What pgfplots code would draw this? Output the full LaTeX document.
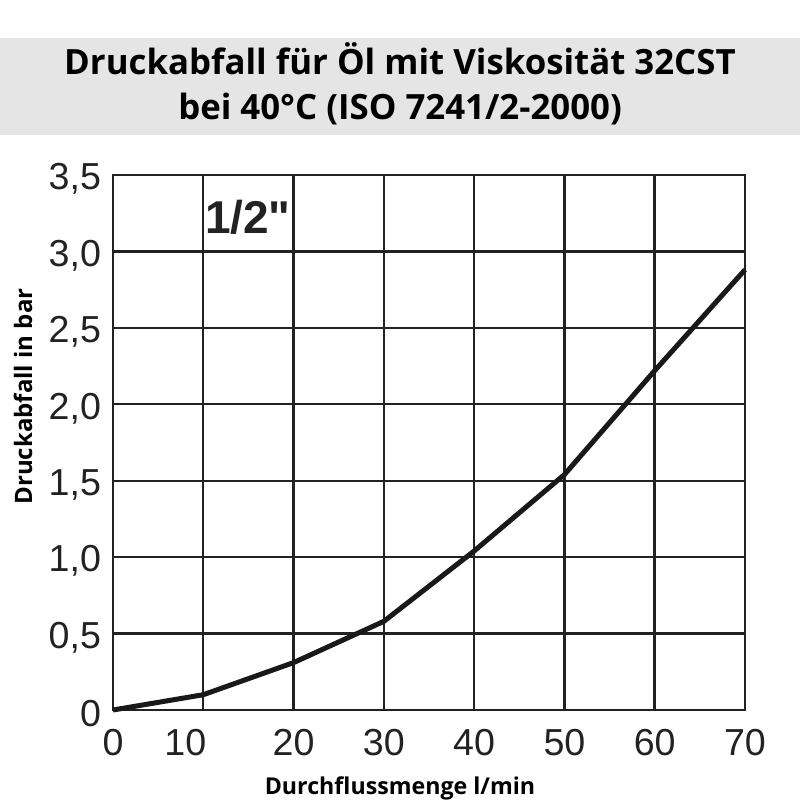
\documentclass[border=0pt]{standalone}
\usepackage{pgfplots}
\pgfplotsset{compat=1.18}
\usepackage{fontspec}
\setmainfont{Liberation Sans}
\newfontfamily\opensans{Open Sans}
\newfontfamily\plainsans[Ligatures=TeXOff]{Liberation Sans}
\definecolor{band}{RGB}{229,229,229}
\definecolor{ink}{RGB}{34,34,34}
\begin{document}
\begin{tikzpicture}[x=1pt,y=1pt]
\useasboundingbox (0,0) rectangle (400,400);
\fill[band] (0,332.5) rectangle (400,381);
\node[anchor=base, font=\opensans\bfseries\fontsize{17.4}{20}\selectfont, inner sep=0pt]
  at (200,362.5) {Druckabfall für Öl mit Viskosität 32CST};
\node[anchor=base, font=\opensans\bfseries\fontsize{17.4}{20}\selectfont, inner sep=0pt]
  at (200,340) {bei 40°C (ISO 7241/2-2000)};
\begin{axis}[
  at={(56.5pt,45pt)}, anchor=south west,
  scale only axis,
  width=316pt, height=267.5pt,
  xmin=0, xmax=70, ymin=0, ymax=3.5,
  xtick={0,10,...,70},
  xticklabels={0,{10\hspace*{18pt}},20,30,40,50,60,70},
  ytick={0,0.5,...,3.5},
  yticklabels={0,{0,5},{1,0},{1,5},{2,0},{2,5},{3,0},{3,5}},
  grid=major,
  major grid style={ink, line width=1.2pt},
  axis line style={ink, line width=1.2pt},
  major tick length=0pt,
  tick style={draw=none},
  ticklabel style={font=\fontsize{18.8}{20}\selectfont, text=ink},
  yticklabel style={xshift=-2.5pt, yshift=-2pt},
  xticklabel style={yshift=-6pt},
  clip=false,
]
\addplot[color=black!90, line width=2.5pt, line join=round] coordinates {
  (0,0) (10,0.10) (20,0.31) (30,0.58) (40,1.04) (50,1.54) (60,2.22) (70,2.88)
};
\node[anchor=base west, inner sep=0pt, font=\plainsans\bfseries\fontsize{23}{24}\selectfont, text=ink]
  at (axis cs:10.15,3.12) {1/2"};
\end{axis}
\node[rotate=90, font=\opensans\bfseries\fontsize{12}{13}\selectfont] at (11.5,201.75) {Druckabfall in bar};
\node[anchor=base, font=\opensans\bfseries\fontsize{11.6}{13}\selectfont] at (200,2.7) {Durchflussmenge l/min};
\end{tikzpicture}
\end{document}
